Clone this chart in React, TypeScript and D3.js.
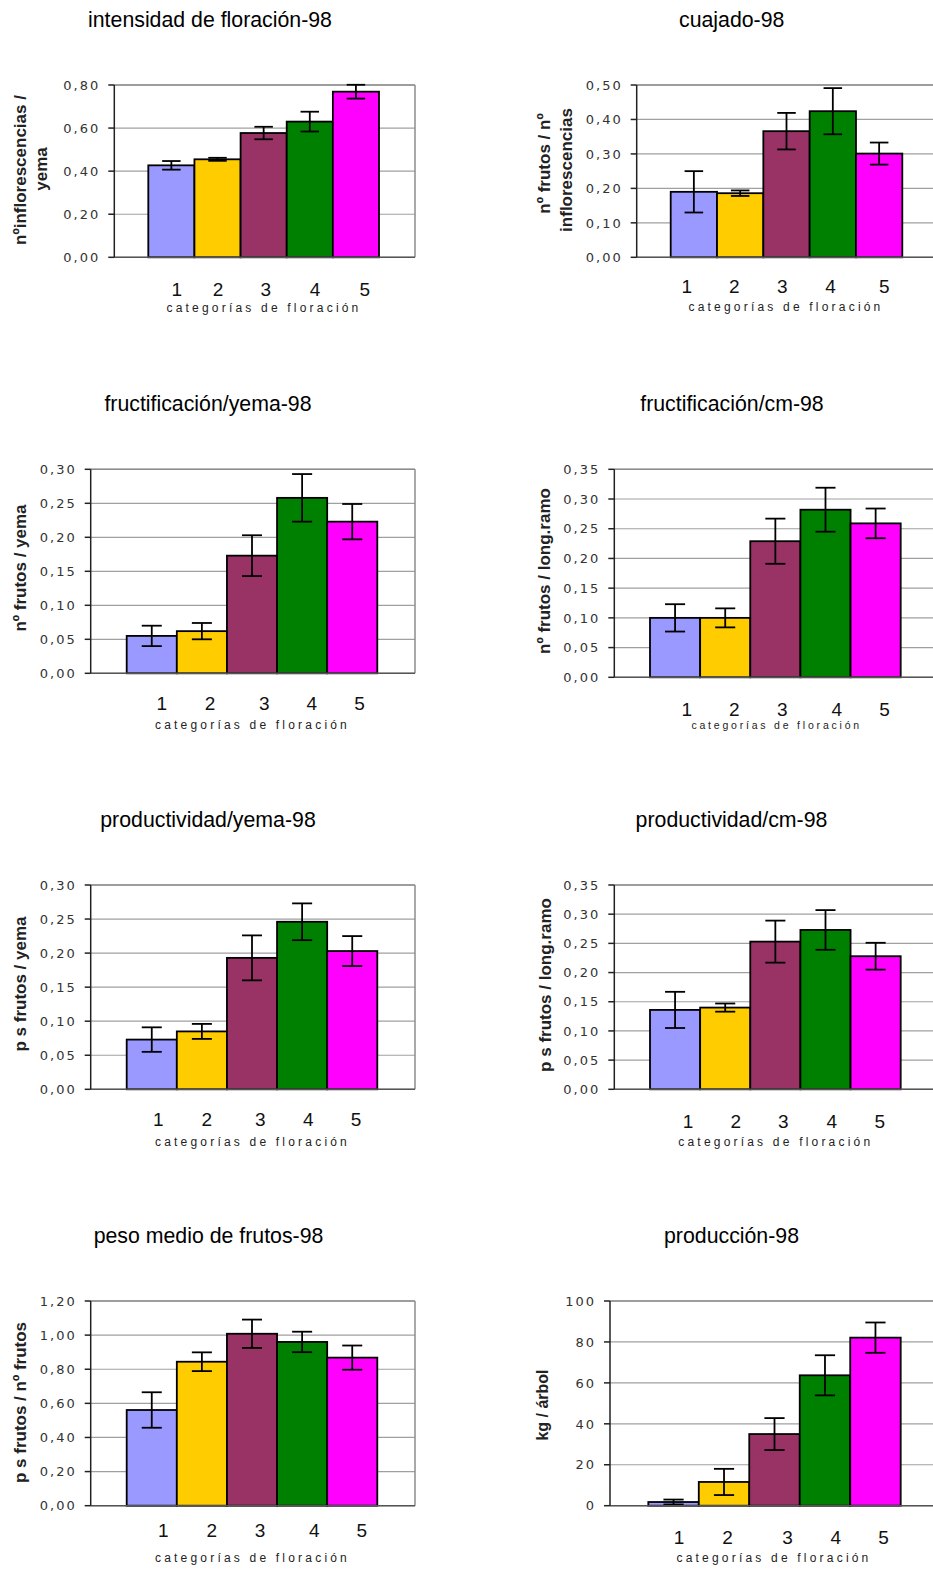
import React from "react";
import * as d3 from "d3";

const categories = ["1", "2", "3", "4", "5"];
const barColors = ["#9999FF", "#FFCC00", "#993366", "#008000", "#FF00FF"];
const subtitleText = "categorías de floración";

const intensidadValues = [0.427, 0.455, 0.577, 0.63, 0.769];
const intensidadErrors = [0.02, 0.007, 0.029, 0.046, 0.032];
const intensidadTicks = [0, 0.2, 0.4, 0.6, 0.8];

const cuajadoValues = [0.19, 0.186, 0.366, 0.424, 0.301];
const cuajadoErrors = [0.06, 0.008, 0.053, 0.067, 0.032];
const cuajadoTicks = [0, 0.1, 0.2, 0.3, 0.4, 0.5];

const fructYemaValues = [0.055, 0.062, 0.173, 0.258, 0.223];
const fructYemaErrors = [0.015, 0.012, 0.03, 0.035, 0.026];
const fructYemaTicks = [0, 0.05, 0.1, 0.15, 0.2, 0.25, 0.3];

const fructCmValues = [0.1, 0.1, 0.229, 0.282, 0.259];
const fructCmErrors = [0.023, 0.016, 0.038, 0.037, 0.025];
const fructCmTicks = [0, 0.05, 0.1, 0.15, 0.2, 0.25, 0.3, 0.35];

const prodYemaValues = [0.073, 0.085, 0.193, 0.246, 0.203];
const prodYemaErrors = [0.018, 0.011, 0.033, 0.027, 0.022];
const prodYemaTicks = [0, 0.05, 0.1, 0.15, 0.2, 0.25, 0.3];

const prodCmValues = [0.136, 0.14, 0.253, 0.273, 0.228];
const prodCmErrors = [0.031, 0.007, 0.036, 0.034, 0.023];
const prodCmTicks = [0, 0.05, 0.1, 0.15, 0.2, 0.25, 0.3, 0.35];

const pesoValues = [0.561, 0.844, 1.008, 0.96, 0.868];
const pesoErrors = [0.104, 0.055, 0.083, 0.06, 0.071];
const pesoTicks = [0, 0.2, 0.4, 0.6, 0.8, 1.0, 1.2];

const produccionValues = [1.8, 11.6, 35.0, 63.7, 82.1];
const produccionErrors = [1.2, 6.4, 7.8, 9.8, 7.4];
const produccionTicks = [0, 20, 40, 60, 80, 100];

const fmtComma = (v: number) => d3.format(".2f")(v).replace(".", ",");
const fmtInt = (v: number) => d3.format("d")(v);

type Panel = {
  title: string;
  values: number[];
  errors: number[];
  ticks: number[];
  fmt: (v: number) => string;
  yLabel: { text: string; x: number; y: number; size: number }[];
  left: number; right: number; top: number; bottom: number;
  barStart: number; barEnd: number;
  titleX: number; titleY: number;
  catX: number[]; catY: number;
  subX: number; subY: number; subSize: number; subLs: number;
};

const panels: Panel[] = [
  {
    title: "intensidad de floración-98", values: intensidadValues, errors: intensidadErrors, ticks: intensidadTicks, fmt: fmtComma,
    yLabel: [ { text: "nºinflorescencias /", x: 25.5, y: 170, size: 17 }, { text: "yema", x: 46.5, y: 169, size: 17 } ],
    left: 114.3, right: 415, top: 85, bottom: 257.3, barStart: 148.3, barEnd: 379,
    titleX: 210, titleY: 26.7, catX: [176.7, 218, 265.8, 315, 364.7], catY: 296,
    subX: 264, subY: 311.5, subSize: 12, subLs: 3.2,
  },
  {
    title: "cuajado-98", values: cuajadoValues, errors: cuajadoErrors, ticks: cuajadoTicks, fmt: fmtComma,
    yLabel: [ { text: "nº frutos / nº", x: 550, y: 163.5, size: 17 }, { text: "inflorescencias", x: 572, y: 170, size: 17 } ],
    left: 636.7, right: 938, top: 85, bottom: 257.3, barStart: 670.7, barEnd: 902.3,
    titleX: 731.7, titleY: 26.7, catX: [686.7, 734.2, 782.2, 830.5, 884.2], catY: 292.5,
    subX: 786, subY: 311, subSize: 12, subLs: 3.2,
  },
  {
    title: "fructificación/yema-98", values: fructYemaValues, errors: fructYemaErrors, ticks: fructYemaTicks, fmt: fmtComma,
    yLabel: [ { text: "nº frutos / yema", x: 26, y: 568, size: 17 } ],
    left: 90.7, right: 415, top: 469.3, bottom: 673.3, barStart: 126.7, barEnd: 377.3,
    titleX: 208, titleY: 411, catX: [161.7, 210, 264.2, 311.8, 359.5], catY: 710,
    subX: 252.5, subY: 729.3, subSize: 12, subLs: 3.2,
  },
  {
    title: "fructificación/cm-98", values: fructCmValues, errors: fructCmErrors, ticks: fructCmTicks, fmt: fmtComma,
    yLabel: [ { text: "nº frutos / long.ramo", x: 550, y: 571, size: 17 } ],
    left: 614.3, right: 938, top: 469.3, bottom: 677.3, barStart: 650, barEnd: 900.7,
    titleX: 732, titleY: 411, catX: [686.7, 734.2, 782.2, 836.7, 884.5], catY: 716,
    subX: 776.7, subY: 729.3, subSize: 10.5, subLs: 2.8,
  },
  {
    title: "productividad/yema-98", values: prodYemaValues, errors: prodYemaErrors, ticks: prodYemaTicks, fmt: fmtComma,
    yLabel: [ { text: "p s frutos / yema", x: 26, y: 984, size: 17 } ],
    left: 90.7, right: 415, top: 885, bottom: 1089.3, barStart: 126.7, barEnd: 377.3,
    titleX: 208, titleY: 826.7, catX: [158.3, 206.7, 260.3, 308.3, 356], catY: 1126,
    subX: 252.5, subY: 1146, subSize: 12, subLs: 3.2,
  },
  {
    title: "productividad/cm-98", values: prodCmValues, errors: prodCmErrors, ticks: prodCmTicks, fmt: fmtComma,
    yLabel: [ { text: "p s frutos / long.ramo", x: 551, y: 985, size: 17 } ],
    left: 614.3, right: 938, top: 885, bottom: 1089.3, barStart: 650, barEnd: 900.7,
    titleX: 731.5, titleY: 826.7, catX: [688, 735.8, 783.3, 831.8, 879.8], catY: 1128.3,
    subX: 775.8, subY: 1146, subSize: 12, subLs: 3.2,
  },
  {
    title: "peso medio de frutos-98", values: pesoValues, errors: pesoErrors, ticks: pesoTicks, fmt: fmtComma,
    yLabel: [ { text: "p s frutos / nº frutos", x: 26, y: 1402.5, size: 17 } ],
    left: 90.7, right: 415, top: 1301, bottom: 1505.7, barStart: 126.7, barEnd: 377.3,
    titleX: 208.5, titleY: 1242.7, catX: [163.3, 211.8, 260, 314.2, 361.8], catY: 1537.3,
    subX: 252.5, subY: 1562.3, subSize: 12, subLs: 3.2,
  },
  {
    title: "producción-98", values: produccionValues, errors: produccionErrors, ticks: produccionTicks, fmt: fmtInt,
    yLabel: [ { text: "kg / árbol", x: 548, y: 1405, size: 16 } ],
    left: 610, right: 938, top: 1301, bottom: 1505.7, barStart: 648.3, barEnd: 900.7,
    titleX: 731.5, titleY: 1242.7, catX: [679, 727.5, 787.5, 835.8, 883.5], catY: 1544.3,
    subX: 774, subY: 1561.7, subSize: 12, subLs: 3.2,
  },
];

function BarPanel({ p }: { p: Panel }) {
  const yMax = p.ticks[p.ticks.length - 1];
  const y = d3.scaleLinear().domain([0, yMax]).range([p.bottom, p.top]);
  const x = d3.scaleBand<string>().domain(categories).range([p.barStart, p.barEnd]).paddingInner(0).paddingOuter(0);
  const bw = x.bandwidth();
  const cap = bw * 0.4;
  return (
    <g>
      <text x={p.titleX} y={p.titleY} textAnchor="middle" fontFamily="'Liberation Sans', Arial, sans-serif" fontSize={21.3} fill="#000">
        {p.title}
      </text>
      {p.ticks.map((t, i) => (
        <line key={"g" + i} x1={p.left} x2={p.right} y1={y(t)} y2={y(t)} stroke="#a0a0a0" strokeWidth={1.2} />
      ))}
      <line x1={p.left} x2={p.right} y1={p.top} y2={p.top} stroke="#8c8c8c" strokeWidth={1.5} />
      <line x1={p.right} x2={p.right} y1={p.top} y2={p.bottom} stroke="#8c8c8c" strokeWidth={1.5} />
      {p.values.map((v, i) => (
        <rect key={"b" + i} x={x(categories[i])!} y={y(v)} width={bw} height={y(0) - y(v)}
          fill={barColors[i]} stroke="#000" strokeWidth={1.8} />
      ))}
      {p.values.map((v, i) => {
        const cx = x(categories[i])! + bw / 2;
        const hi = y(v + p.errors[i]);
        const lo = y(Math.max(0, v - p.errors[i]));
        return (
          <g key={"e" + i} stroke="#000" strokeWidth={1.8}>
            <line x1={cx} x2={cx} y1={hi} y2={lo} />
            <line x1={cx - cap / 2} x2={cx + cap / 2} y1={hi} y2={hi} />
            <line x1={cx - cap / 2} x2={cx + cap / 2} y1={lo} y2={lo} />
          </g>
        );
      })}
      <line x1={p.left} x2={p.right} y1={p.bottom} y2={p.bottom} stroke="#555" strokeWidth={1.5} />
      <line x1={p.left} x2={p.left} y1={p.top} y2={p.bottom} stroke="#222" strokeWidth={1.5} />
      {p.ticks.map((t, i) => (
        <g key={"t" + i}>
          <line x1={p.left - 6} x2={p.left} y1={y(t)} y2={y(t)} stroke="#222" strokeWidth={1.5} />
          <text x={p.left - 14} y={y(t)} dy="0.36em" textAnchor="end" fontFamily="'DejaVu Sans', Verdana, sans-serif"
            fontSize={13} letterSpacing={2} fill="#333">
            {p.fmt(t)}
          </text>
        </g>
      ))}
      {categories.map((c, i) => (
        <text key={"c" + i} x={p.catX[i]} y={p.catY} textAnchor="middle" fontFamily="'Liberation Sans', Arial, sans-serif"
          fontSize={19} fill="#111">
          {c}
        </text>
      ))}
      <text x={p.subX} y={p.subY} textAnchor="middle" fontFamily="'Liberation Sans', Arial, sans-serif"
        fontSize={p.subSize} letterSpacing={p.subLs} fill="#222">
        {subtitleText}
      </text>
      {p.yLabel.map((l, i) => (
        <text key={"y" + i} transform={`translate(${l.x},${l.y}) rotate(-90)`} textAnchor="middle"
          fontFamily="'Liberation Sans', Arial, sans-serif" fontWeight="bold" fontSize={l.size} fill="#222">
          {l.text}
        </text>
      ))}
    </g>
  );
}

export default function App() {
  return (
    <svg width={933} height={1569} style={{ position: "absolute", left: 0, top: 0, background: "#fff" }}>
      <rect x={0} y={0} width={933} height={1569} fill="#fff" />
      {panels.map((p, i) => (
        <BarPanel key={i} p={p} />
      ))}
    </svg>
  );
}
